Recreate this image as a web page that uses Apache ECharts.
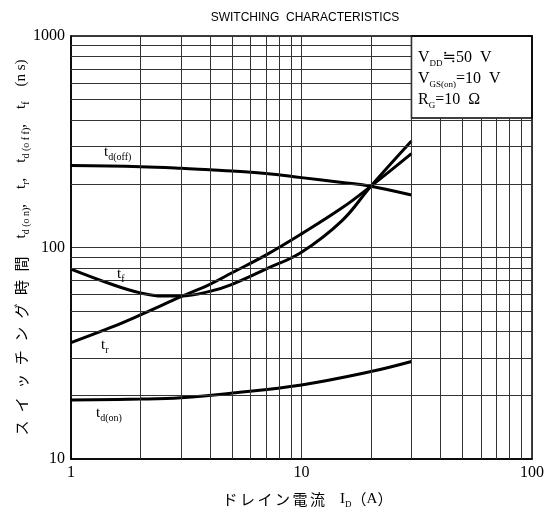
<!DOCTYPE html>
<html>
<head>
<meta charset="utf-8">
<script src="https://cdn.jsdelivr.net/npm/echarts@6/dist/echarts.min.js"></script>
<style>html,body{margin:0;padding:0;background:#fff}#c{width:544px;height:523px}</style>
</head>
<body>
<div id="c"></div>
<script>
// ---- data ----
const xTicks = [1, 10, 100];
const yTicks = [10, 100, 1000];
const xMinor = [2,3,4,5,6,7,8,9,20,30,40,50,60,70,80,90];
const yMinor = [20,30,40,50,60,70,80,90,200,300,400,500,600,700,800,900];

const tdOffX = [1, 2, 3, 4, 5, 7, 10, 15, 20, 30];
const tdOffY = [244, 241, 237, 233, 230, 224, 214, 203, 195, 177];

const trX = [1, 1.5, 2, 3, 4, 5, 7, 10, 15, 20, 30];
const trY = [35.5, 42, 48, 58.5, 67, 76, 92, 116, 154, 195, 278];

const tfX = [1, 1.5, 2, 2.5, 3, 4, 5, 7, 10, 15, 20, 30];
const tfY = [79, 67, 61, 59, 59, 62, 67, 79, 95, 134, 195, 319];

const tdOnX = [1, 2, 3, 5, 10, 20, 30];
const tdOnY = [19, 19.2, 19.5, 20.5, 22.4, 25.9, 28.9];

// condition box (data-space extent)
const boxX = [30, 100];
const boxY = [410, 1000];

const pair = (xs, ys) => xs.map((x, i) => [x, ys[i]]);

const SERIF = '"Liberation Serif","DejaVu Serif",serif';
const CJK = '"Noto Sans CJK JP",sans-serif';

const chart = echarts.init(document.getElementById('c'), null, {renderer: 'canvas'});

const gridLineStyle = {color: '#333', width: 1, type: 'solid'};
const curveStyle = {color: '#000', width: 3};

function rich(mainSize, subSize, jSize) {
  return {
    m: {fontFamily: SERIF, fontSize: mainSize, color: '#000', lineHeight: 20, verticalAlign: 'middle'},
    s: {fontFamily: SERIF, fontSize: subSize, color: '#000', lineHeight: 10, verticalAlign: 'bottom'},
    j: {fontFamily: CJK, fontSize: jSize || 14, color: '#000', lineHeight: 20, verticalAlign: 'middle'}
  };
}

// grid line segments: lines stop at the condition box
const gridSegs = [];
xMinor.forEach(v => {
  const top = v > boxX[0] ? boxY[0] : yTicks[2];
  gridSegs.push([{coord: [v, yTicks[0]]}, {coord: [v, top]}]);
});
yMinor.forEach(v => {
  const right = v > boxY[0] ? boxX[0] : xTicks[2];
  gridSegs.push([{coord: [xTicks[0], v]}, {coord: [right, v]}]);
});

const sp = '\u2002';
const jpY = 'スイッチング時間'.split('').join(sp + '\u200A');
const jpX = 'ドレイン電流'.split('').join('\u2006');
const gap = sp + sp;

const option = {
  animation: false,
  backgroundColor: '#fff',
  title: {
    text: 'SWITCHING  CHARACTERISTICS',
    left: 300, top: 7, textAlign: 'center',
    textStyle: {fontFamily: '"Liberation Sans","DejaVu Sans",sans-serif', fontSize: 12, fontWeight: 'normal', color: '#000'}
  },
  grid: {left: 71, right: 12, top: 36, bottom: 64, show: true, borderColor: '#000', borderWidth: 1.5,
         backgroundColor: 'transparent', containLabel: false, outerBoundsMode: 'none'},
  xAxis: {
    type: 'log', logBase: 10, min: xTicks[0], max: xTicks[xTicks.length - 1],
    axisLine: {show: true, lineStyle: {color: '#000', width: 1.5}},
    axisTick: {show: false},
    splitLine: {show: true, lineStyle: gridLineStyle},
    axisLabel: {fontFamily: SERIF, fontSize: 16, color: '#000', margin: 6, formatter: v => String(Math.round(v))},
    name: '{j|' + jpX + '}' + '{j|\u3000}{m|I}{s|D}{j|（}{m|A}{j|）}',
    nameLocation: 'middle', nameGap: 30, nameMoveOverlap: false,
    nameTextStyle: {rich: rich(15, 9, 15), padding: [0, 0, 0, 12]}
  },
  yAxis: {
    type: 'log', logBase: 10, min: yTicks[0], max: yTicks[yTicks.length - 1],
    axisLine: {show: true, lineStyle: {color: '#000', width: 1.5}},
    axisTick: {show: false},
    splitLine: {show: true, lineStyle: gridLineStyle},
    axisLabel: {fontFamily: SERIF, fontSize: 16, color: '#000', margin: 6, formatter: v => String(Math.round(v))},
    name: '{j|' + jpY + '}' + gap + sp + '{m|t}{s|d (o n)}{m|,' + gap + 't}{s|r}{m|,' + gap + 't}{s|d (o f f)}{m|,' + gap + 't}{s|f}{m|' + gap + '(n s)}',
    nameLocation: 'middle', nameGap: 40, nameRotate: 90, nameMoveOverlap: false,
    nameTextStyle: {rich: rich(15, 10, 15)}
  },
  series: [
    {
      type: 'line', data: [[1, 10]], showSymbol: false, silent: true, z: 1,
      lineStyle: {width: 0},
      markLine: {
        silent: true, symbol: 'none', label: {show: false},
        lineStyle: gridLineStyle,
        data: gridSegs
      }
    },
    {
      type: 'line', data: [[1, 10]], showSymbol: false, silent: true, z: 2,
      lineStyle: {width: 0},
      markArea: {
        silent: true,
        itemStyle: {color: 'rgba(255,255,255,0)', borderColor: '#000', borderWidth: 1.5},
        label: {show: false},
        data: [[{xAxis: boxX[0], yAxis: boxY[0]}, {xAxis: boxX[1], yAxis: boxY[1]}]]
      }
    },
    {name: 'td(off)', type: 'line', smooth: 0.4, showSymbol: false, z: 3, lineStyle: curveStyle, data: pair(tdOffX, tdOffY)},
    {name: 'tr', type: 'line', smooth: 0.4, showSymbol: false, z: 3, lineStyle: curveStyle, data: pair(trX, trY)},
    {name: 'tf', type: 'line', smooth: 0.4, showSymbol: false, z: 3, lineStyle: curveStyle, data: pair(tfX, tfY)},
    {name: 'td(on)', type: 'line', smooth: 0.4, showSymbol: false, z: 3, lineStyle: curveStyle, data: pair(tdOnX, tdOnY)}
  ],
  graphic: [
    {type: 'text', left: 104, top: 145, z: 10, style: {text: '{m|t}{s|d(off)}', rich: rich(15, 10)}},
    {type: 'text', left: 117, top: 267, z: 10, style: {text: '{m|t}{s|f}', rich: rich(15, 10)}},
    {type: 'text', left: 101, top: 338, z: 10, style: {text: '{m|t}{s|r}', rich: rich(15, 10)}},
    {type: 'text', left: 96, top: 406, z: 10, style: {text: '{m|t}{s|d(on)}', rich: rich(15, 10)}},
    {type: 'text', left: 418, top: 50, z: 10, style: {
      text: '{m|V}{s|DD}{m|≒50  V}\n{m|V}{s|GS(on)}{m|=10  V}\n{m|R}{s|G}{m|=10  Ω}',
      rich: {
        m: {fontFamily: SERIF, fontSize: 16, color: '#000', lineHeight: 21, verticalAlign: 'middle'},
        s: {fontFamily: SERIF, fontSize: 9, color: '#000', lineHeight: 10, verticalAlign: 'bottom'}
      }
    }}
  ]
};
chart.setOption(option);
</script>
</body>
</html>
